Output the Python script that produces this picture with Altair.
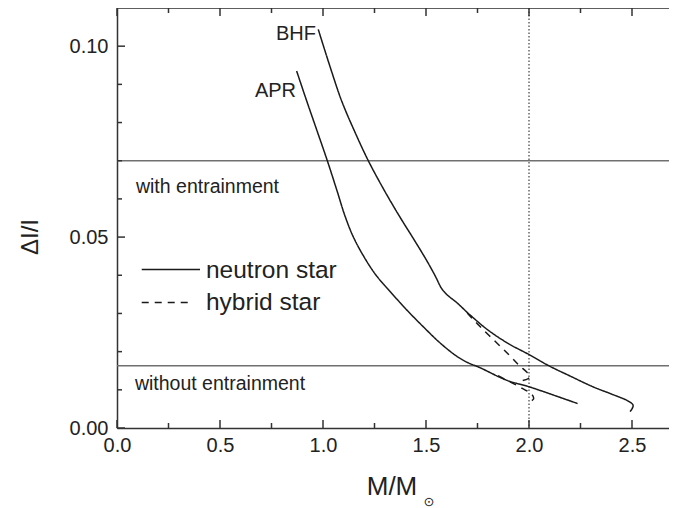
import altair as alt
import pandas as pd

# ---- data (M/Msun, dI/I) ----
apr_m = [0.872, 0.92, 0.97, 1.021, 1.07, 1.105, 1.145, 1.195, 1.255, 1.33, 1.40, 1.487, 1.57, 1.649, 1.70, 1.762, 1.892, 2.0, 2.12, 2.236]
apr_d = [0.0935, 0.0858, 0.0780, 0.0700, 0.0618, 0.0558, 0.0503, 0.0452, 0.0402, 0.0355, 0.0313, 0.0265, 0.0222, 0.0188, 0.0172, 0.0158, 0.0125, 0.0108, 0.0086, 0.0064]

bhf_m = [0.977, 1.035, 1.091, 1.155, 1.22, 1.30, 1.374, 1.44, 1.503, 1.545, 1.575, 1.60, 1.65, 1.714, 1.80, 1.90, 2.005, 2.10, 2.20, 2.31, 2.40, 2.48, 2.505, 2.50, 2.49]
bhf_d = [0.1044, 0.0945, 0.0856, 0.0775, 0.0700, 0.0620, 0.0552, 0.0495, 0.0439, 0.0398, 0.0366, 0.0350, 0.0328, 0.0296, 0.0257, 0.0221, 0.0191, 0.0162, 0.0136, 0.0108, 0.0089, 0.0071, 0.0060, 0.0050, 0.0043]

bhf_hyb_m = [1.70, 1.76, 1.83, 1.90, 1.95, 1.99, 2.005, 1.995, 1.965]
bhf_hyb_d = [0.0301, 0.0267, 0.0230, 0.0193, 0.0165, 0.0146, 0.0136, 0.0129, 0.0124]

apr_hyb_m = [1.85, 1.90, 1.947, 1.98, 2.005, 2.02, 2.022, 2.005]
apr_hyb_d = [0.0137, 0.0123, 0.0110, 0.0100, 0.0093, 0.0083, 0.0076, 0.0069]

entrainment_levels = [0.070, 0.0163]
max_mass_line = [2.0]

x_major = [0.0, 0.5, 1.0, 1.5, 2.0, 2.5]
x_minor = [0.25, 0.75, 1.25, 1.75, 2.25]
y_major = [0.0, 0.05, 0.10]
y_minor = [0.01, 0.02, 0.03, 0.04, 0.06, 0.07, 0.08, 0.09]

legend_labels = ["neutron star", "hybrid star"]
legend_kinds = ["neutron", "hybrid"]
legend_y = [0.0415, 0.0329]
legend_x0 = [0.12, 0.12]
legend_x1 = [0.403, 0.345]

W, H = 552, 420
FONT = "Liberation Sans"
TXT = "#222222"
LINE = "#1a1a1a"

xs = alt.Scale(domain=[0, W / 206.0], nice=False, zero=False)
ys = alt.Scale(domain=[0, 0.11], nice=False, zero=False)

axis_common = dict(ticks=False, grid=False, domainColor="#333333", domainWidth=1.5,
                   labelFont=FONT, labelFontSize=20, labelColor=TXT, labelFlush=False,
                   labelOverlap=False, title=None)
XAX = alt.Axis(values=x_major, format=".1f", labelPadding=7, **axis_common)
YAX = alt.Axis(values=y_major, format=".2f", labelPadding=9, **axis_common)


def X(f="m:Q"):
    return alt.X(f, scale=xs, axis=XAX)


def Y(f="d:Q"):
    return alt.Y(f, scale=ys, axis=YAX)


def curve(name, kind, ms, ds):
    return pd.DataFrame({"m": ms, "d": ds, "curve": name, "kind": kind, "order": range(len(ms))})


curves = pd.concat([
    curve("APR", "neutron", apr_m, apr_d),
    curve("BHF", "neutron", bhf_m, bhf_d),
    curve("BHF-h", "hybrid", bhf_hyb_m, bhf_hyb_d),
    curve("APR-h", "hybrid", apr_hyb_m, apr_hyb_d),
], ignore_index=True)

dash = alt.StrokeDash("kind:N", scale=alt.Scale(domain=["neutron", "hybrid"], range=[[1, 0], [7, 6]]), legend=None)

hl = alt.Chart(pd.DataFrame({"d": entrainment_levels})).mark_rule(color="#707070", strokeWidth=1.3).encode(y=Y())

vl = alt.Chart(pd.DataFrame({"m": max_mass_line})).mark_rule(color=LINE, strokeWidth=1, strokeDash=[1.5, 2]).encode(x=X())

lines = alt.Chart(curves).mark_line(color=LINE, strokeWidth=1.5, interpolate="catmull-rom").encode(
    x=X(), y=Y(), detail="curve:N", order="order:Q", strokeDash=dash,
)

# legend samples
leg_rows = []
for k, y, x0, x1 in zip(legend_kinds, legend_y, legend_x0, legend_x1):
    leg_rows.append({"m": x0, "d": y, "kind": k, "o": 0})
    leg_rows.append({"m": x1, "d": y, "kind": k, "o": 1})
leg_df = pd.DataFrame(leg_rows)
leg_lines = alt.Chart(leg_df).mark_line(color=LINE, strokeWidth=1.5).encode(
    x=X(), y=Y(), detail="kind:N", order="o:Q", strokeDash=dash,
)
leg_text = alt.Chart(pd.DataFrame({"m": [0.432, 0.432], "d": legend_y, "t": legend_labels})).mark_text(
    align="left", baseline="middle", font=FONT, fontSize=24.5, color=TXT, dy=1
).encode(x=X(), y=Y(), text="t:N")

# annotations
ann = pd.DataFrame({
    "m": [0.966, 0.869, 0.092, 0.087],
    "d": [0.1031, 0.0883, 0.0632, 0.0115],
    "t": ["BHF", "APR", "with entrainment", "without entrainment"],
    "a": ["right", "right", "left", "left"],
})
ann_r = alt.Chart(ann[ann.a == "right"]).mark_text(align="right", baseline="middle", font=FONT, fontSize=20, color=TXT).encode(
    x=X(), y=Y(), text="t:N")
ann_l = alt.Chart(ann[ann.a == "left"]).mark_text(align="left", baseline="middle", font=FONT, fontSize=19.5, color=TXT).encode(
    x=X(), y=Y(), text="t:N")


# inward ticks
def xticks(vals, length, top):
    y0, y1 = (0, length) if top else (H, H - length)
    return alt.Chart(pd.DataFrame({"m": vals})).mark_rule(color="#333333", strokeWidth=1.5).encode(
        x=X(), y=alt.value(y0), y2=alt.value(y1))


def yticks(vals, length):
    return alt.Chart(pd.DataFrame({"d": vals})).mark_rule(color="#333333", strokeWidth=1.5).encode(
        y=Y(), x=alt.value(0), x2=alt.value(length))


top_border = alt.Chart(pd.DataFrame({"m": [0]})).mark_rule(color="#333333", strokeWidth=1.5).encode(
    x=alt.value(0), x2=alt.value(W), y=alt.value(0))

ytitle = alt.Chart(pd.DataFrame({"t": ["ΔI/I"]})).mark_text(
    angle=270, align="center", baseline="middle", font=FONT, fontSize=24, color=TXT
).encode(x=alt.value(-86), y=alt.value(229), text="t:N")
xtitle = alt.Chart(pd.DataFrame({"t": ["M/M"]})).mark_text(
    align="center", baseline="alphabetic", font=FONT, fontSize=26, color=TXT
).encode(x=alt.value(275), y=alt.value(487), text="t:N")
xsub = alt.Chart(pd.DataFrame({"t": ["⊙"]})).mark_text(
    align="center", baseline="middle", font="DejaVu Sans", fontSize=13, color=TXT
).encode(x=alt.value(312), y=alt.value(494), text="t:N")

chart = alt.layer(
    hl, vl, lines, leg_lines, leg_text, ann_r, ann_l,
    xticks(x_major, 8, False), xticks(x_minor, 5, False),
    xticks(x_major, 8, True), xticks(x_minor, 5, True),
    yticks(y_major, 8), yticks(y_minor, 5),
    top_border, ytitle, xtitle, xsub,
).properties(
    width=W, height=H,
    autosize=alt.AutoSizeParams(type="none"),
    padding={"left": 109, "top": 0, "right": 0, "bottom": 80},
).configure_view(stroke=None).configure(background="white")

chart.save("out.html", embed_options={"renderer": "svg", "actions": False})
